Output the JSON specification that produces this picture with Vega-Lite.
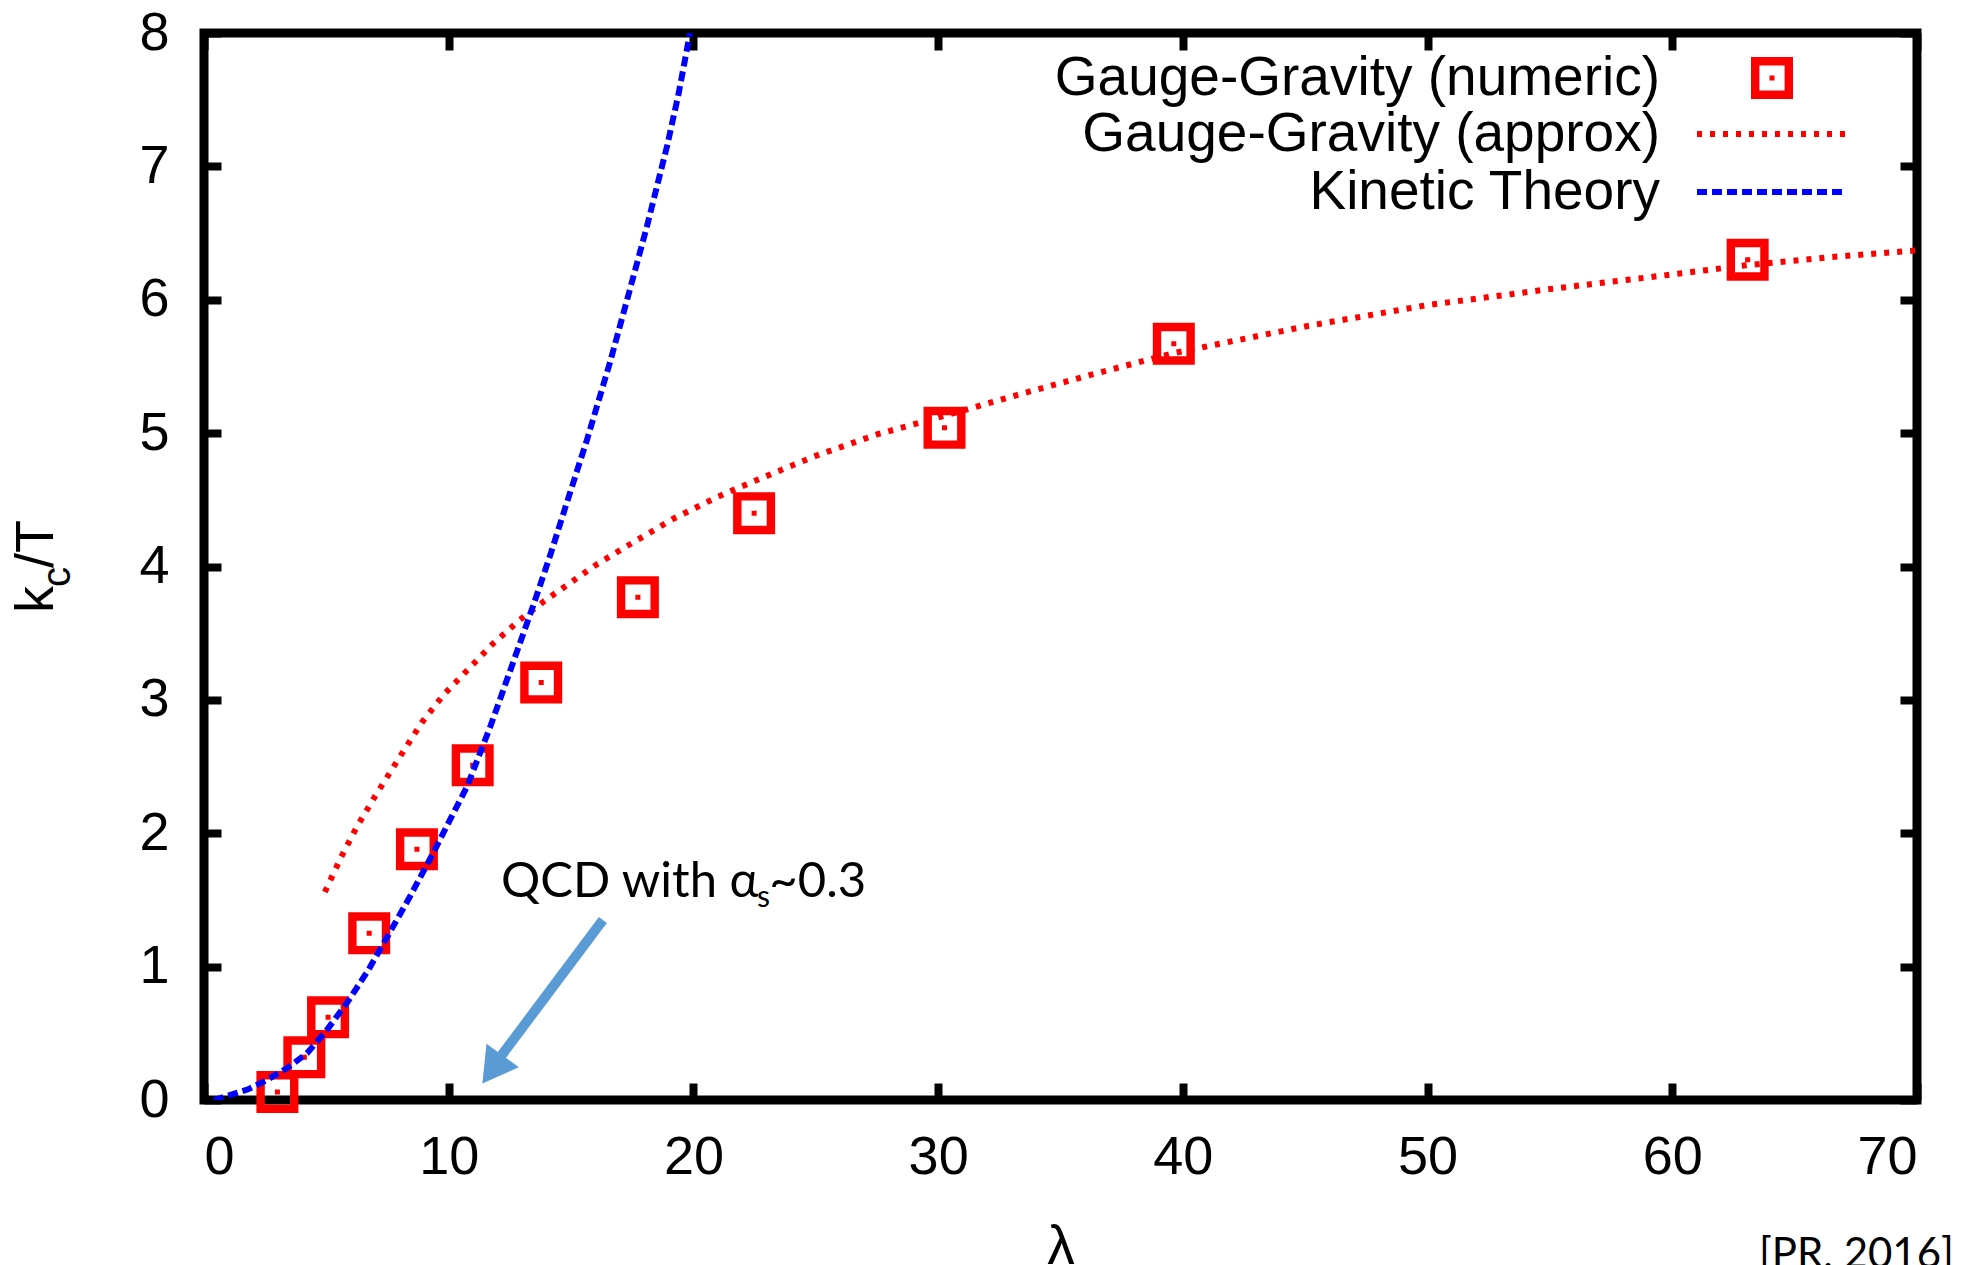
{
  "$schema": "https://vega.github.io/schema/vega-lite/v6.json",
  "width": 1713,
  "height": 1067,
  "autosize": {"type": "none"},
  "padding": {"left": 204, "top": 33, "right": 47, "bottom": 165},
  "background": "white",
  "config": {
    "font": "Liberation Sans",
    "view": {"stroke": "black", "strokeWidth": 9},
    "axis": {"grid": false, "domain": false, "tickColor": "black", "tickWidth": 8, "tickSize": -17, "labelColor": "black", "labelFont": "Liberation Sans", "labelFontSize": 54, "titleFont": "Liberation Sans", "titleFontWeight": "normal", "titleColor": "black"}
  },
  "datasets": {
    "curves": [
      {"lambda": 3.0, "k": 0.06, "series": "Gauge-Gravity (numeric)"},
      {"lambda": 4.1, "k": 0.32, "series": "Gauge-Gravity (numeric)"},
      {"lambda": 5.07, "k": 0.62, "series": "Gauge-Gravity (numeric)"},
      {"lambda": 6.75, "k": 1.25, "series": "Gauge-Gravity (numeric)"},
      {"lambda": 8.7, "k": 1.88, "series": "Gauge-Gravity (numeric)"},
      {"lambda": 10.98, "k": 2.51, "series": "Gauge-Gravity (numeric)"},
      {"lambda": 13.78, "k": 3.13, "series": "Gauge-Gravity (numeric)"},
      {"lambda": 17.73, "k": 3.77, "series": "Gauge-Gravity (numeric)"},
      {"lambda": 22.48, "k": 4.40, "series": "Gauge-Gravity (numeric)"},
      {"lambda": 30.26, "k": 5.04, "series": "Gauge-Gravity (numeric)"},
      {"lambda": 39.63, "k": 5.67, "series": "Gauge-Gravity (numeric)"},
      {"lambda": 63.08, "k": 6.30, "series": "Gauge-Gravity (numeric)"},
      {"lambda": 4.94, "k": 1.56, "series": "Gauge-Gravity (approx)"},
      {"lambda": 5.6, "k": 1.82, "series": "Gauge-Gravity (approx)"},
      {"lambda": 6.25, "k": 2.05, "series": "Gauge-Gravity (approx)"},
      {"lambda": 7.0, "k": 2.28, "series": "Gauge-Gravity (approx)"},
      {"lambda": 7.48, "k": 2.42, "series": "Gauge-Gravity (approx)"},
      {"lambda": 8.2, "k": 2.63, "series": "Gauge-Gravity (approx)"},
      {"lambda": 8.9, "k": 2.83, "series": "Gauge-Gravity (approx)"},
      {"lambda": 9.8, "k": 3.04, "series": "Gauge-Gravity (approx)"},
      {"lambda": 10.75, "k": 3.22, "series": "Gauge-Gravity (approx)"},
      {"lambda": 11.8, "k": 3.42, "series": "Gauge-Gravity (approx)"},
      {"lambda": 12.91, "k": 3.6, "series": "Gauge-Gravity (approx)"},
      {"lambda": 13.9, "k": 3.74, "series": "Gauge-Gravity (approx)"},
      {"lambda": 14.83, "k": 3.86, "series": "Gauge-Gravity (approx)"},
      {"lambda": 16.0, "k": 4.01, "series": "Gauge-Gravity (approx)"},
      {"lambda": 17.53, "k": 4.18, "series": "Gauge-Gravity (approx)"},
      {"lambda": 19.2, "k": 4.36, "series": "Gauge-Gravity (approx)"},
      {"lambda": 20.96, "k": 4.52, "series": "Gauge-Gravity (approx)"},
      {"lambda": 22.48, "k": 4.64, "series": "Gauge-Gravity (approx)"},
      {"lambda": 25.0, "k": 4.83, "series": "Gauge-Gravity (approx)"},
      {"lambda": 27.5, "k": 4.99, "series": "Gauge-Gravity (approx)"},
      {"lambda": 30.26, "k": 5.13, "series": "Gauge-Gravity (approx)"},
      {"lambda": 33.5, "k": 5.3, "series": "Gauge-Gravity (approx)"},
      {"lambda": 36.5, "k": 5.45, "series": "Gauge-Gravity (approx)"},
      {"lambda": 39.63, "k": 5.6, "series": "Gauge-Gravity (approx)"},
      {"lambda": 45.0, "k": 5.8, "series": "Gauge-Gravity (approx)"},
      {"lambda": 50.0, "k": 5.96, "series": "Gauge-Gravity (approx)"},
      {"lambda": 55.0, "k": 6.08, "series": "Gauge-Gravity (approx)"},
      {"lambda": 60.0, "k": 6.19, "series": "Gauge-Gravity (approx)"},
      {"lambda": 63.08, "k": 6.26, "series": "Gauge-Gravity (approx)"},
      {"lambda": 66.5, "k": 6.32, "series": "Gauge-Gravity (approx)"},
      {"lambda": 70.0, "k": 6.37, "series": "Gauge-Gravity (approx)"},
      {"lambda": 0.4, "k": 0.0, "series": "Kinetic Theory"},
      {"lambda": 0.94, "k": 0.03, "series": "Kinetic Theory"},
      {"lambda": 1.8, "k": 0.08, "series": "Kinetic Theory"},
      {"lambda": 2.57, "k": 0.15, "series": "Kinetic Theory"},
      {"lambda": 3.4, "k": 0.24, "series": "Kinetic Theory"},
      {"lambda": 4.21, "k": 0.35, "series": "Kinetic Theory"},
      {"lambda": 5.0, "k": 0.52, "series": "Kinetic Theory"},
      {"lambda": 5.85, "k": 0.73, "series": "Kinetic Theory"},
      {"lambda": 6.7, "k": 0.97, "series": "Kinetic Theory"},
      {"lambda": 7.48, "k": 1.22, "series": "Kinetic Theory"},
      {"lambda": 8.4, "k": 1.52, "series": "Kinetic Theory"},
      {"lambda": 9.36, "k": 1.85, "series": "Kinetic Theory"},
      {"lambda": 10.05, "k": 2.1, "series": "Kinetic Theory"},
      {"lambda": 10.75, "k": 2.35, "series": "Kinetic Theory"},
      {"lambda": 11.7, "k": 2.8, "series": "Kinetic Theory"},
      {"lambda": 12.63, "k": 3.28, "series": "Kinetic Theory"},
      {"lambda": 13.44, "k": 3.7, "series": "Kinetic Theory"},
      {"lambda": 14.14, "k": 4.08, "series": "Kinetic Theory"},
      {"lambda": 14.83, "k": 4.48, "series": "Kinetic Theory"},
      {"lambda": 15.65, "k": 4.95, "series": "Kinetic Theory"},
      {"lambda": 16.59, "k": 5.53, "series": "Kinetic Theory"},
      {"lambda": 17.29, "k": 6.0, "series": "Kinetic Theory"},
      {"lambda": 18.1, "k": 6.55, "series": "Kinetic Theory"},
      {"lambda": 18.92, "k": 7.15, "series": "Kinetic Theory"},
      {"lambda": 19.4, "k": 7.55, "series": "Kinetic Theory"},
      {"lambda": 19.86, "k": 8.0, "series": "Kinetic Theory"}
    ]
  },
  "resolve": {"axis": {"x": "independent", "y": "independent"}},
  "layer": [
    {
      "data": {"name": "curves"},
      "transform": [{"filter": "datum.series === 'Gauge-Gravity (numeric)'"}],
      "mark": {"type": "point", "shape": "M-1,-1H1V1H-1Z M-0.6,-0.6V0.6H0.6V-0.6Z M-0.12,-0.12H0.12V0.12H-0.12Z", "filled": true, "size": 1764, "opacity": 1, "strokeWidth": 0},
      "encoding": {
        "x": {"field": "lambda", "type": "quantitative", "scale": {"domain": [0, 70], "nice": false, "zero": false},
              "axis": {"orient": "bottom", "values": [0, 10, 20, 30, 40, 50, 60, 70], "labelPadding": 47, "title": "λ", "titleFontSize": 55, "titlePadding": 36}},
        "y": {"field": "k", "type": "quantitative", "scale": {"domain": [0, 8], "nice": false, "zero": false},
              "axis": {"orient": "left", "values": [0, 1, 2, 3, 4, 5, 6, 7, 8], "labelPadding": 52, "title": null}},
        "fill": {"field": "series", "type": "nominal",
          "scale": {"domain": ["Gauge-Gravity (numeric)"], "range": ["#ff0000"]},
          "legend": {
            "title": null, "orient": "none", "legendX": 1540.5, "legendY": 17.5, "padding": 0,
            "symbolType": "M-1,-1H1V1H-1Z M-0.6,-0.6V0.6H0.6V-0.6Z M-0.12,-0.12H0.12V0.12H-0.12Z", "symbolSize": 1764, "symbolStrokeWidth": 0, "symbolOpacity": 1,
            "labelAlign": "right", "labelOffset": -139.5, "labelFont": "Liberation Sans", "labelFontSize": 55, "labelColor": "black", "labelLimit": 1000, "labelBaseline": "middle"
          }
        }
      }
    },
    {
      "data": {"name": "curves"},
      "transform": [{"filter": "datum.series !== 'Gauge-Gravity (numeric)'"}],
      "mark": {"type": "line", "strokeWidth": 6, "strokeCap": "butt", "clip": true},
      "encoding": {
        "x": {"field": "lambda", "type": "quantitative", "scale": {"domain": [0, 70], "nice": false, "zero": false},
              "axis": {"orient": "top", "values": [0, 10, 20, 30, 40, 50, 60, 70], "labels": false, "title": null}},
        "y": {"field": "k", "type": "quantitative", "scale": {"domain": [0, 8], "nice": false, "zero": false},
              "axis": {"orient": "right", "values": [0, 1, 2, 3, 4, 5, 6, 7, 8], "labels": false, "title": null}},
        "stroke": {"field": "series", "type": "nominal",
          "scale": {"domain": ["Gauge-Gravity (approx)", "Kinetic Theory"], "range": ["#ff0000", "#0000ff"]},
          "legend": {
            "title": null, "orient": "none", "legendX": 1539, "legendY": 73, "padding": 0,
            "symbolType": "M-3,0H3", "symbolSize": 2434, "symbolStrokeWidth": 6, "symbolOpacity": 1, "rowPadding": 2,
            "labelAlign": "right", "labelOffset": -139, "labelFont": "Liberation Sans", "labelFontSize": 55, "labelColor": "black", "labelLimit": 1000, "labelBaseline": "middle"
          }
        },
        "strokeDash": {"field": "series", "type": "nominal",
          "scale": {"domain": ["Gauge-Gravity (approx)", "Kinetic Theory"], "range": [[5, 8], [10, 5]]},
          "legend": {
            "title": null, "orient": "none", "legendX": 1539, "legendY": 73, "padding": 0,
            "symbolType": "M-3,0H3", "symbolSize": 2434, "symbolStrokeWidth": 6, "symbolOpacity": 1, "rowPadding": 2,
            "labelAlign": "right", "labelOffset": -139, "labelFont": "Liberation Sans", "labelFontSize": 55, "labelColor": "black", "labelLimit": 1000, "labelBaseline": "middle"
          }
        }
      }
    },
    {
      "data": {"values": [{"lambda": 16.3, "k": 1.35}, {"lambda": 12.14, "k": 0.33}]},
      "mark": {"type": "line", "color": "#5B9BD5", "strokeWidth": 10, "strokeCap": "butt"},
      "encoding": {
        "x": {"field": "lambda", "type": "quantitative", "scale": {"domain": [0, 70], "nice": false, "zero": false}, "axis": null},
        "y": {"field": "k", "type": "quantitative", "scale": {"domain": [0, 8], "nice": false, "zero": false}, "axis": null}
      }
    },
    {
      "data": {"values": [{"lambda": 11.79, "k": 0.229}]},
      "mark": {"type": "point", "shape": "triangle-up", "angle": 216, "size": 1600, "filled": true, "color": "#5B9BD5", "opacity": 1, "strokeWidth": 0},
      "encoding": {
        "x": {"field": "lambda", "type": "quantitative", "scale": {"domain": [0, 70], "nice": false, "zero": false}, "axis": null},
        "y": {"field": "k", "type": "quantitative", "scale": {"domain": [0, 8], "nice": false, "zero": false}, "axis": null}
      }
    },
    {
      "data": {"values": [{"lambda": 12.14, "k": 1.522, "label": "QCD with α"}, {"lambda": 23.1, "k": 1.522, "label": "~0.3"}]},
      "mark": {"type": "text", "font": "Lato", "fontSize": 49, "align": "left", "baseline": "alphabetic", "color": "black"},
      "encoding": {
        "x": {"field": "lambda", "type": "quantitative", "scale": {"domain": [0, 70], "nice": false, "zero": false}, "axis": null},
        "y": {"field": "k", "type": "quantitative", "scale": {"domain": [0, 8], "nice": false, "zero": false}, "axis": null},
        "text": {"field": "label"}
      }
    },
    {
      "data": {"values": [{"lambda": 22.6, "k": 1.447, "label": "s"}]},
      "mark": {"type": "text", "font": "Lato", "fontSize": 30, "align": "left", "baseline": "alphabetic", "color": "black"},
      "encoding": {
        "x": {"field": "lambda", "type": "quantitative", "scale": {"domain": [0, 70], "nice": false, "zero": false}, "axis": null},
        "y": {"field": "k", "type": "quantitative", "scale": {"domain": [0, 8], "nice": false, "zero": false}, "axis": null},
        "text": {"field": "label"}
      }
    },
    {
      "data": {"values": [{"lambda": 71.51, "k": -1.26, "label": "[PR, 2016]"}]},
      "mark": {"type": "text", "font": "Lato", "fontSize": 42, "align": "right", "baseline": "alphabetic", "color": "black"},
      "encoding": {
        "x": {"field": "lambda", "type": "quantitative", "scale": {"domain": [0, 70], "nice": false, "zero": false}, "axis": null},
        "y": {"field": "k", "type": "quantitative", "scale": {"domain": [0, 8], "nice": false, "zero": false}, "axis": null},
        "text": {"field": "label"}
      }
    },
    {
      "data": {"values": [{"lambda": -6.17, "k": 3.651, "label": "k"}, {"lambda": -6.17, "k": 3.989, "label": "/T"}]},
      "mark": {"type": "text", "font": "Liberation Sans", "fontSize": 54, "angle": 270, "align": "left", "baseline": "alphabetic", "color": "black"},
      "encoding": {
        "x": {"field": "lambda", "type": "quantitative", "scale": {"domain": [0, 70], "nice": false, "zero": false}, "axis": null},
        "y": {"field": "k", "type": "quantitative", "scale": {"domain": [0, 8], "nice": false, "zero": false}, "axis": null},
        "text": {"field": "label"}
      }
    },
    {
      "data": {"values": [{"lambda": -5.48, "k": 3.846, "label": "c"}]},
      "mark": {"type": "text", "font": "Liberation Sans", "fontSize": 40, "angle": 270, "align": "left", "baseline": "alphabetic", "color": "black"},
      "encoding": {
        "x": {"field": "lambda", "type": "quantitative", "scale": {"domain": [0, 70], "nice": false, "zero": false}, "axis": null},
        "y": {"field": "k", "type": "quantitative", "scale": {"domain": [0, 8], "nice": false, "zero": false}, "axis": null},
        "text": {"field": "label"}
      }
    }
  ]
}
